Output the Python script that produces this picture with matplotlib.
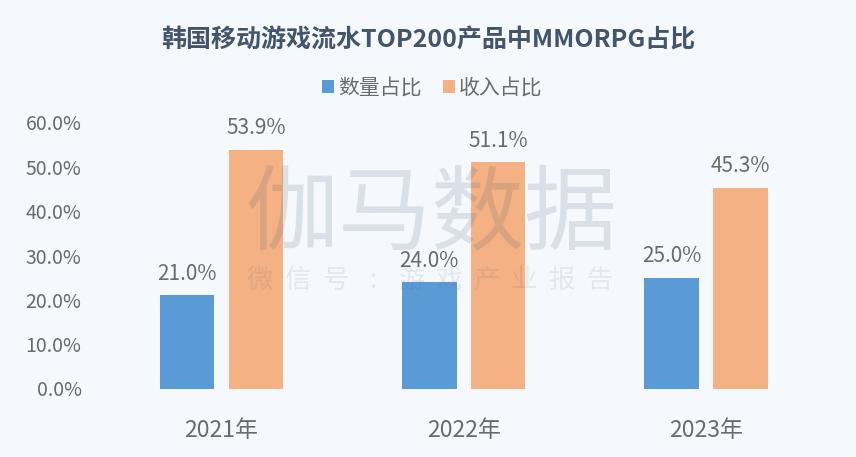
#!/usr/bin/env python3
from matplotlib import pyplot as plt

plt.rcParams['font.family'] = ['Noto Sans CJK SC', 'DejaVu Sans']

years = ['2021年', '2022年', '2023年']
count_share = [21.0, 24.0, 25.0]
revenue_share = [53.9, 51.1, 45.3]
y_ticks = [0, 10, 20, 30, 40, 50, 60]
mark_chars = ['微', '信', '号', ':', '游', '戏', '产', '业', '报', '告']

BG = '#f5f9fe'
TEXT = '#6a6a6a'

fig = plt.figure(figsize=(8.56, 4.57), dpi=100, facecolor=BG)
ax = fig.add_axes([100.3 / 856, (457 - 388.5) / 457, 727 / 856, 266 / 457], facecolor='none')

xs = range(len(years))
w = 0.225
blue = ax.bar([x - 0.142 for x in xs], count_share, w, color='#5b9bd5', label='数量占比')
orange = ax.bar([x + 0.142 for x in xs], revenue_share, w, color='#f4b183', label='收入占比')

for bars in (blue, orange):
    for b in bars:
        ax.text(b.get_x() + b.get_width() / 2, b.get_height() + 2.3, '%.1f%%' % b.get_height(),
                ha='center', va='bottom', fontsize=15, fontweight='light', color=TEXT, zorder=5)

ax.set_xlim(-0.5, 2.5)
ax.set_ylim(0, 60)
ax.set_xticks(list(xs))
ax.set_xticklabels(years, fontsize=16.5, fontweight='light', color=TEXT)
ax.set_yticks(y_ticks)
ax.set_yticklabels(['%.1f%%' % v for v in y_ticks], fontsize=14, fontweight='light', color=TEXT)
ax.tick_params(length=0)
ax.tick_params(axis='x', pad=22)
ax.tick_params(axis='y', pad=13.5)
for s in ax.spines.values():
    s.set_visible(False)

fig.text(428.5 / 856, 1 - 40 / 457, '韩国移动游戏流水TOP200产品中MMORPG占比', ha='center', va='center',
         fontsize=18, fontweight='bold', color='#44546a')
fig.legend(handles=[blue, orange], loc='center', bbox_to_anchor=(432.5 / 856, 1 - 88 / 457), ncol=2,
           frameon=False, labelcolor=TEXT, handlelength=0.58, handleheight=0.58,
           handletextpad=0.2, columnspacing=1.0, prop={'weight': 'light', 'size': 15})

# watermark
fig.text(431 / 856, 1 - 215 / 457, '伽马数据', ha='center', va='center', fontsize=67,
         fontweight='light', color='#44546a', alpha=0.15, zorder=10)
for i, ch in enumerate(mark_chars):
    fig.text((260 + i * 37.7) / 856, 1 - 280 / 457, ch, ha='center', va='center', fontsize=19,
             fontweight='light', color='#44546a', alpha=0.1, zorder=10)

fig.savefig('out.png', dpi=100, facecolor=BG)
